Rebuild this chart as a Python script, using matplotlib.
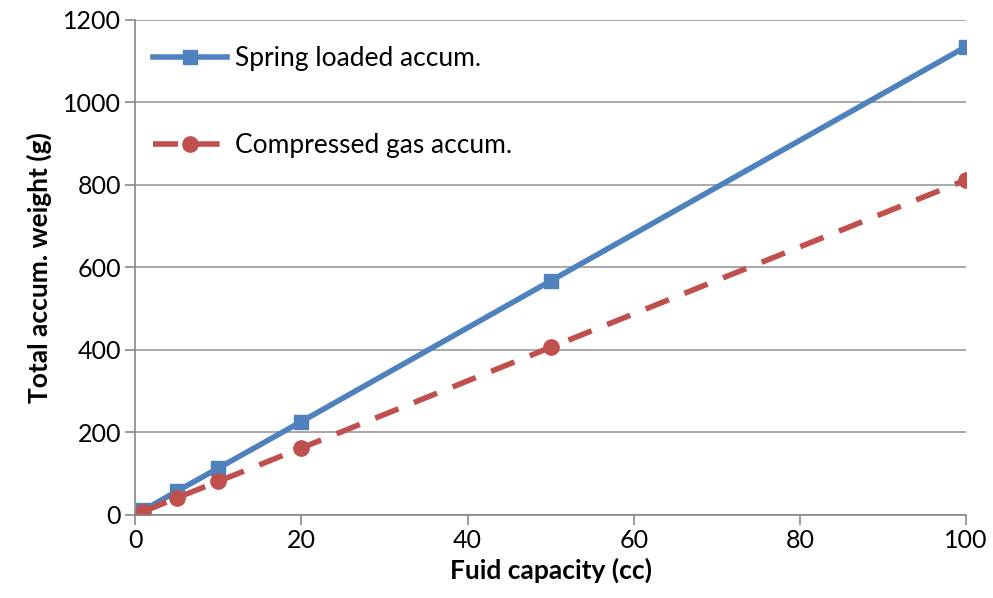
import matplotlib.pyplot as plt

capacity = [1, 5, 10, 20, 50, 100]
spring_weight = [11, 57, 113, 226, 567, 1135]
gas_weight = [8, 41, 81, 162, 406, 812]

x_ticks = [0, 20, 40, 60, 80, 100]
y_ticks = [0, 200, 400, 600, 800, 1000, 1200]

plt.rcParams["font.family"] = ["Lato", "DejaVu Sans"]

fig = plt.figure(figsize=(9.93, 5.98), dpi=100)
ax = fig.add_axes([0.136, 0.139, 0.837, 0.828])

ax.plot(capacity, spring_weight, color="#4f81bd", lw=4, marker="s", ms=10,
        label="Spring loaded accum.")
ax.plot(capacity, gas_weight, color="#c0504d", lw=4, ls=(0, (4.5, 3)), marker="o", ms=11,
        label="Compressed gas accum.")

ax.set_xlim(0, 100)
ax.set_ylim(0, 1200)
ax.set_xticks(x_ticks)
ax.set_yticks(y_ticks)
ax.tick_params(labelsize=18, length=7, width=1.2, color="#888888", pad=3)
ax.grid(axis="y", color="#999999", lw=1.2)
ax.set_axisbelow(True)
for s in ["top", "right"]:
    ax.spines[s].set_visible(False)
for s in ["left", "bottom"]:
    ax.spines[s].set_color("#888888")
    ax.spines[s].set_linewidth(1.2)

ax.set_xlabel("Fuid capacity (cc)", fontsize=19, fontweight="bold", labelpad=4)
ax.set_ylabel("Total accum. weight (g)", fontsize=19, fontweight="bold", labelpad=8)

ax.legend(loc="upper left", bbox_to_anchor=(-0.01, 1.0), frameon=False, fontsize=19,
          handlelength=2.8, handletextpad=0.3, labelspacing=2.35, borderaxespad=0.6)

fig.savefig("out.png", dpi=100)
plt.close(fig)
